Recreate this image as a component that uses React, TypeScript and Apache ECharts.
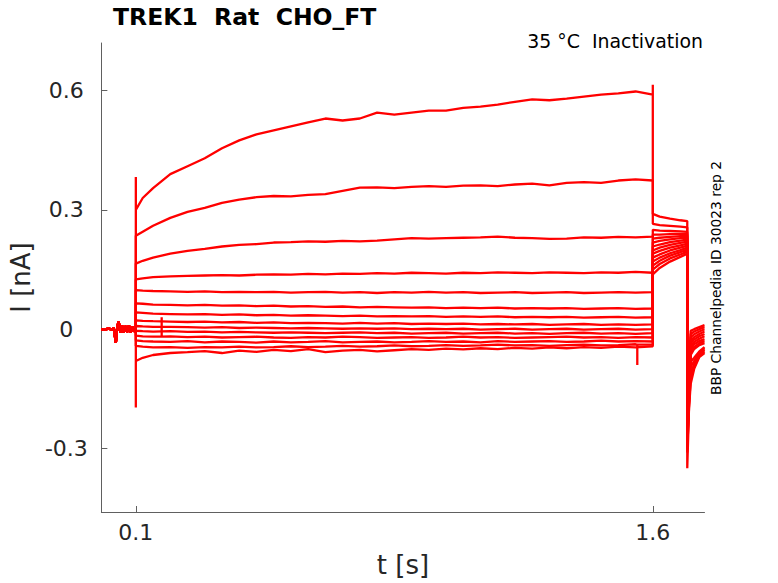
import React, { useEffect, useRef } from "react";
import * as echarts from "echarts";

// ---- data ----
const xTicks = [0.1, 1.6];
const yTicks = [-0.3, 0, 0.3, 0.6];

// holding period before the step (shared by all sweeps)
const preT = [0, 0.01, 0.02, 0.03, 0.036, 0.042, 0.046, 0.05, 0.055, 0.06, 0.065, 0.07, 0.075, 0.08, 0.085, 0.09, 0.095, 0.1];
const preV = [0, -0.002, 0.002, -0.001, 0.003, -0.034, 0.004, 0.02, -0.008, 0.009, -0.009, 0.008, -0.007, 0.009, -0.008, 0.007, -0.006, 0];

// step pulse sample times
const pulseT = [0.1, 0.12, 0.15, 0.2, 0.25, 0.3, 0.35, 0.4, 0.45, 0.5, 0.55, 0.6, 0.65, 0.7, 0.75, 0.8, 0.85, 0.9, 0.95, 1.0, 1.05, 1.1, 1.15, 1.2, 1.25, 1.3, 1.35, 1.4, 1.45, 1.5, 1.55, 1.6];

const pulse1 = [0.30, 0.33, 0.355, 0.39, 0.41, 0.43, 0.455, 0.475, 0.49, 0.50, 0.51, 0.52, 0.53, 0.525, 0.53, 0.545, 0.54, 0.545, 0.55, 0.55, 0.557, 0.56, 0.565, 0.572, 0.578, 0.576, 0.58, 0.585, 0.59, 0.593, 0.598, 0.59];
const pulse2 = [0.235, 0.245, 0.26, 0.28, 0.295, 0.305, 0.318, 0.326, 0.332, 0.335, 0.334, 0.338, 0.34, 0.348, 0.356, 0.357, 0.355, 0.358, 0.36, 0.358, 0.361, 0.362, 0.36, 0.364, 0.366, 0.362, 0.368, 0.37, 0.368, 0.374, 0.377, 0.374];
const pulse3 = [0.165, 0.172, 0.18, 0.19, 0.197, 0.202, 0.208, 0.212, 0.214, 0.218, 0.219, 0.221, 0.22, 0.222, 0.221, 0.223, 0.226, 0.229, 0.228, 0.229, 0.23, 0.231, 0.233, 0.23, 0.229, 0.227, 0.228, 0.231, 0.23, 0.232, 0.231, 0.233];
const pulse4 = [0.125, 0.128, 0.131, 0.133, 0.134, 0.135, 0.136, 0.135, 0.137, 0.138, 0.137, 0.139, 0.138, 0.14, 0.139, 0.141, 0.14, 0.142, 0.141, 0.14, 0.142, 0.141, 0.143, 0.142, 0.141, 0.143, 0.142, 0.141, 0.143, 0.142, 0.144, 0.142];
const pulse5 = [0.098, 0.097, 0.096, 0.095, 0.094, 0.095, 0.093, 0.094, 0.093, 0.094, 0.092, 0.093, 0.094, 0.092, 0.093, 0.091, 0.093, 0.092, 0.094, 0.092, 0.093, 0.091, 0.092, 0.093, 0.091, 0.092, 0.093, 0.091, 0.092, 0.093, 0.092, 0.093];
const pulse6 = [0.065, 0.064, 0.062, 0.061, 0.06, 0.061, 0.059, 0.06, 0.058, 0.059, 0.057, 0.058, 0.056, 0.057, 0.055, 0.056, 0.055, 0.054, 0.055, 0.053, 0.054, 0.053, 0.054, 0.052, 0.053, 0.052, 0.053, 0.051, 0.052, 0.053, 0.051, 0.052];
const pulse7 = [0.042, 0.041, 0.039, 0.038, 0.037, 0.038, 0.036, 0.037, 0.035, 0.036, 0.034, 0.035, 0.034, 0.033, 0.034, 0.032, 0.033, 0.032, 0.033, 0.031, 0.032, 0.031, 0.032, 0.03, 0.031, 0.03, 0.031, 0.029, 0.03, 0.031, 0.029, 0.03];
const pulse8 = [0.022, 0.021, 0.02, 0.019, 0.018, 0.019, 0.017, 0.018, 0.016, 0.017, 0.015, 0.016, 0.015, 0.014, 0.016, 0.014, 0.015, 0.013, 0.014, 0.013, 0.014, 0.012, 0.013, 0.012, 0.013, 0.011, 0.012, 0.013, 0.011, 0.012, 0.011, 0.012];
const pulse9 = [0.008, 0.007, 0.006, 0.006, 0.005, 0.004, 0.005, 0.003, 0.004, 0.003, 0.002, 0.003, 0.002, 0.001, 0.002, 0.001, 0.002, 0.0, 0.001, 0.0, 0.001, -0.001, 0.0, 0.001, -0.001, 0.0, 0.001, -0.001, 0.0, 0.001, -0.001, 0.0];
const pulse10 = [-0.004, -0.005, -0.006, -0.005, -0.007, -0.006, -0.008, -0.007, -0.008, -0.009, -0.008, -0.009, -0.01, -0.009, -0.008, -0.01, -0.009, -0.011, -0.01, -0.009, -0.011, -0.01, -0.009, -0.011, -0.01, -0.012, -0.01, -0.009, -0.011, -0.01, -0.012, -0.01];
const pulse11 = [-0.016, -0.018, -0.019, -0.018, -0.02, -0.019, -0.021, -0.02, -0.019, -0.021, -0.022, -0.02, -0.021, -0.019, -0.02, -0.022, -0.021, -0.02, -0.022, -0.021, -0.019, -0.021, -0.02, -0.022, -0.021, -0.02, -0.019, -0.021, -0.02, -0.022, -0.02, -0.021];
const pulse12 = [-0.028, -0.03, -0.031, -0.032, -0.03, -0.033, -0.031, -0.032, -0.034, -0.031, -0.033, -0.032, -0.03, -0.033, -0.032, -0.031, -0.033, -0.032, -0.03, -0.032, -0.031, -0.033, -0.03, -0.032, -0.031, -0.03, -0.032, -0.031, -0.029, -0.031, -0.03, -0.031];
const pulse13 = [-0.042, -0.044, -0.046, -0.045, -0.047, -0.045, -0.046, -0.044, -0.046, -0.045, -0.043, -0.045, -0.044, -0.042, -0.044, -0.043, -0.041, -0.043, -0.042, -0.04, -0.042, -0.041, -0.039, -0.041, -0.04, -0.042, -0.04, -0.039, -0.041, -0.04, -0.038, -0.039];
const pulse14 = [-0.08, -0.072, -0.065, -0.06, -0.058, -0.055, -0.06, -0.054, -0.057, -0.052, -0.055, -0.05, -0.058, -0.054, -0.052, -0.056, -0.053, -0.05, -0.052, -0.049, -0.051, -0.048, -0.05, -0.047, -0.049, -0.046, -0.048, -0.045, -0.047, -0.044, -0.046, -0.043];

// tail after the step (1.6 .. 1.7 s)
const tailT = [1.6, 1.62, 1.65, 1.68, 1.7];
const tail1 = [0.29, 0.283, 0.278, 0.274, 0.272];
const tail2 = [0.265, 0.262, 0.26, 0.258, 0.256];
const tail3 = [0.25, 0.248, 0.247, 0.246, 0.245];
const tail4 = [0.238, 0.238, 0.239, 0.24, 0.24];
const tail5 = [0.228, 0.23, 0.232, 0.234, 0.235];
const tail6 = [0.218, 0.222, 0.226, 0.229, 0.23];
const tail7 = [0.208, 0.213, 0.219, 0.223, 0.225];
const tail8 = [0.198, 0.205, 0.212, 0.217, 0.22];
const tail9 = [0.19, 0.197, 0.205, 0.211, 0.215];
const tail10 = [0.18, 0.188, 0.198, 0.205, 0.21];
const tail11 = [0.17, 0.18, 0.191, 0.199, 0.205];
const tail12 = [0.16, 0.172, 0.185, 0.194, 0.2];
const tail13 = [0.15, 0.164, 0.178, 0.188, 0.195];
const tail14 = [0.138, 0.154, 0.17, 0.182, 0.19];

// return to holding (1.7 .. 1.75 s): first value is the transient minimum
const postT = [1.7, 1.705, 1.71, 1.72, 1.735, 1.75];
const post1 = [-0.35, -0.2, -0.065, -0.05, -0.04, -0.035];
const post2 = [-0.31, -0.18, -0.058, -0.045, -0.035, -0.03];
const post3 = [-0.29, -0.17, -0.05, -0.038, -0.03, -0.025];
const post4 = [-0.27, -0.16, -0.042, -0.032, -0.024, -0.018];
const post5 = [-0.26, -0.15, -0.035, -0.026, -0.018, -0.012];
const post6 = [-0.25, -0.14, -0.028, -0.02, -0.012, -0.006];
const post7 = [-0.24, -0.13, -0.02, -0.013, -0.006, 0.0];
const post8 = [-0.23, -0.12, -0.012, -0.006, 0.0, 0.005];
const post9 = [-0.22, -0.11, -0.004, 0.0, 0.005, 0.01];
const post10 = [-0.3, -0.2, -0.137, -0.1, -0.07, -0.06];
const post11 = [-0.28, -0.19, -0.125, -0.095, -0.067, -0.056];
const post12 = [-0.26, -0.18, -0.11, -0.088, -0.063, -0.052];
const post13 = [-0.24, -0.17, -0.095, -0.08, -0.06, -0.048];
const post14 = [-0.22, -0.16, -0.082, -0.072, -0.056, -0.045];

// capacitive transients at the step onset / offset (null = none)
const onsetPeak = [0.383, null, null, null, null, null, null, null, null, null, null, null, null, -0.197];
const offsetPeak = [0.615, null, null, null, null, null, null, null, null, null, null, null, null, null];

// isolated glitches: sweep index, time, baseline value, glitch value
const glitches = [
  { sweep: 12, t: 1.555, base: -0.039, peak: -0.09 },
  { sweep: 10, t: 0.175, base: -0.019, peak: 0.03 },
];

const pulses = [pulse1, pulse2, pulse3, pulse4, pulse5, pulse6, pulse7, pulse8, pulse9, pulse10, pulse11, pulse12, pulse13, pulse14];
const tails = [tail1, tail2, tail3, tail4, tail5, tail6, tail7, tail8, tail9, tail10, tail11, tail12, tail13, tail14];
const posts = [post1, post2, post3, post4, post5, post6, post7, post8, post9, post10, post11, post12, post13, post14];

function buildSweep(i: number): number[][] {
  const pts: number[][] = [];
  preT.forEach((t, k) => pts.push([t, preV[k]]));
  const on = onsetPeak[i];
  if (on !== null) pts.push([0.1, on]);
  const p = pulses[i];
  const gl = glitches.filter((g) => g.sweep === i);
  pulseT.forEach((t, k) => {
    if (k > 0) {
      gl.forEach((g) => {
        if (g.t > pulseT[k - 1] && g.t <= t) {
          pts.push([g.t, g.base], [g.t, g.peak], [g.t, g.base]);
        }
      });
    }
    pts.push([t, p[k]]);
  });
  const off = offsetPeak[i];
  if (off !== null) pts.push([1.6, off]);
  tailT.forEach((t, k) => pts.push([t, tails[i][k]]));
  postT.forEach((t, k) => pts.push([t, posts[i][k]]));
  return pts;
}

export default function App() {
  const ref = useRef<HTMLDivElement>(null);
  useEffect(() => {
    if (!ref.current) return;
    const chart = echarts.init(ref.current, null, { renderer: "svg" });
    const series = pulses.map((_, i) => ({
      type: "line",
      data: buildSweep(i),
      showSymbol: false,
      symbol: "none",
      silent: true,
      lineStyle: { color: "#ff0000", width: 2.3 },
      z: 2,
    }));
    const axisCol = "#606060";
    const labelCol = "#262626";
    chart.setOption({
      animation: false,
      backgroundColor: "#ffffff",
      grid: { left: 101, top: 43, right: 73.5, bottom: 64 },
      xAxis: {
        type: "value",
        min: 0,
        max: 1.75,
        name: "t [s]",
        nameLocation: "middle",
        nameGap: 40,
        nameTextStyle: { fontSize: 26, color: labelCol, fontFamily: "DejaVu Sans" },
        axisLine: { show: true, onZero: false, lineStyle: { color: axisCol, width: 1 } },
        axisTick: { show: true, inside: true, length: 6, customValues: xTicks, lineStyle: { color: axisCol } },
        axisLabel: {
          customValues: xTicks,
          fontSize: 22,
          color: labelCol,
          fontFamily: "DejaVu Sans",
          margin: 9,
          formatter: (v: number) => String(v),
        },
        splitLine: { show: false },
      },
      yAxis: {
        type: "value",
        min: -0.46,
        max: 0.72,
        name: "I [nA]",
        nameLocation: "middle",
        nameGap: 60,
        nameTextStyle: { fontSize: 26, color: labelCol, fontFamily: "DejaVu Sans" },
        axisLine: { show: true, onZero: false, lineStyle: { color: axisCol, width: 1 } },
        axisTick: { show: true, inside: true, length: 6, customValues: yTicks, lineStyle: { color: axisCol } },
        axisLabel: {
          customValues: yTicks,
          fontSize: 22,
          color: labelCol,
          fontFamily: "DejaVu Sans",
          margin: 35,
          align: "center",
          formatter: (v: number) => String(v),
        },
        splitLine: { show: false },
      },
      graphic: [
        {
          type: "text",
          left: 113,
          top: 5,
          style: { text: "TREK1  Rat  CHO_FT", fontSize: 23.5, fontWeight: "bold", fill: "#000", fontFamily: "DejaVu Sans" },
        },
        {
          type: "text",
          x: 703,
          y: 41,
          style: { text: "35 °C  Inactivation", fontSize: 18.9, fill: "#000", fontFamily: "DejaVu Sans", align: "right", verticalAlign: "middle" },
        },
        {
          type: "text",
          x: 716,
          y: 278,
          rotation: Math.PI / 2,
          style: { text: "BBP Channelpedia ID 30023 rep 2", fontSize: 13.8, fill: "#000", fontFamily: "DejaVu Sans", align: "center", verticalAlign: "middle" },
        },
      ],
      series,
    });
    return () => chart.dispose();
  }, []);
  return <div ref={ref} style={{ position: "fixed", left: 0, top: 0, width: 778, height: 583 }} />;
}
